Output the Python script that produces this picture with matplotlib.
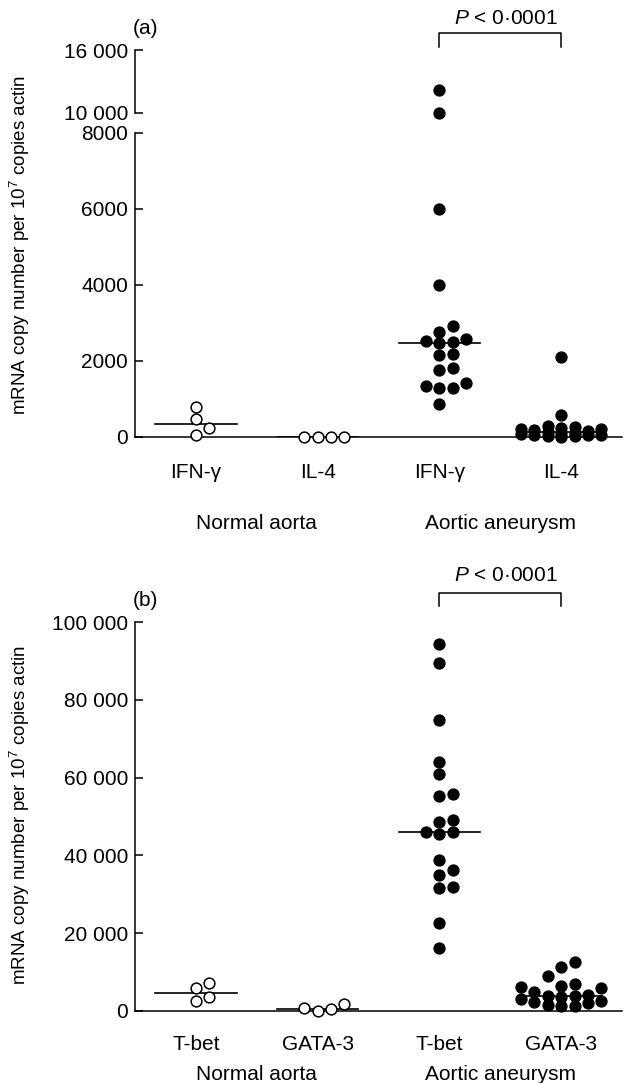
import numpy as np
import matplotlib
matplotlib.use('Agg')
import matplotlib.pyplot as plt
import matplotlib.transforms as mtransforms

plt.rcParams['font.family'] = ['Liberation Sans', 'DejaVu Sans']
plt.rcParams['mathtext.fontset'] = 'custom'
plt.rcParams['mathtext.rm'] = 'Liberation Sans'
plt.rcParams['mathtext.it'] = 'Liberation Sans:italic'

# panel (a): cytokine mRNA
a_labels = ['IFN-γ', 'IL-4', 'IFN-γ', 'IL-4']
a_norm_ifng = [780, 470, 230, 60]
a_norm_il4 = [0, 0, 0, 0]
a_aaa_ifng = [12200, 10000, 6000, 4000, 2920, 2770, 2570, 2530, 2510, 2480,
              2180, 2150, 1810, 1760, 1430, 1350, 1300, 1280, 870]
a_aaa_il4 = [2100, 580, 290, 260, 230, 210, 200, 180, 150, 120,
             100, 80, 70, 60, 50, 40, 30, 20, 10]

# panel (b): transcription factors
b_labels = ['T-bet', 'GATA-3', 'T-bet', 'GATA-3']
b_norm_tbet = [7300, 5900, 3600, 2600]
b_norm_gata3 = [1800, 700, 400, 100]
b_aaa_tbet = [94400, 89500, 74700, 64100, 60900, 55900, 55300, 49200, 48700, 46100,
              46100, 45500, 38800, 36300, 35000, 31900, 31600, 22700, 16100]
b_aaa_gata3 = [12700, 11200, 9100, 6900, 6300, 6200, 5800, 5000, 4100, 3900,
               3900, 3500, 3000, 2600, 2200, 2000, 1600, 1400, 1200]

groups = ['Normal aorta', 'Aortic aneurysm']
ylabel = 'mRNA copy number per 10$^{7}$ copies actin'
ptext = '$\\mathit{P}$ < 0·0001'

W, H = 626, 1083
STEP = 0.11    # column spacing in category units
DIAM = 11      # marker diameter in px
MS = 60
FS = 15        # tick / category text
FS_LAB = 13.5  # y axis title


def swarm(values, to_px):
    # grid swarm like prism: stack in columns, spread sideways on collision
    vals = np.asarray(values, float)
    offs = np.zeros(len(vals))
    placed = []
    for i in np.argsort(vals, kind='stable'):
        y = to_px(vals[i])
        best, bestgap = 0, -1
        for c in [0, 1, -1, 2, -2, 3, -3]:
            gaps = [abs(y - py) for pc, py in placed if pc == c]
            g = min(gaps) if gaps else np.inf
            if g >= DIAM:
                best = c
                break
            if g > bestgap:
                bestgap, best = g, c
        placed.append((best, y))
        offs[i] = best * STEP
    return offs


def pix_a(v):
    return v * 0.038 if v <= 8000 else 324 + (v - 10000) * 0.0105


def pix_b(v):
    return v * 0.00388


def draw(axes_list, x, vals, to_px, filled):
    vals = np.asarray(vals, float)
    offs = swarm(vals, to_px)
    for ax in axes_list:
        lo, hi = ax.get_ylim()
        m = (vals >= lo) & (vals <= hi)
        ax.scatter(x + offs[m], vals[m], s=MS, facecolor='black' if filled else 'white',
                   edgecolor='black', linewidth=1.1, zorder=5, clip_on=False)
    axes_list[-1].plot([x - 0.335, x + 0.335], [np.median(vals)] * 2,
                       color='black', lw=1.2, zorder=4)


def style(ax):
    for s in ['top', 'right']:
        ax.spines[s].set_visible(False)
    ax.spines['left'].set_linewidth(1.1)
    ax.spines['bottom'].set_linewidth(1.1)
    ax.tick_params(axis='y', direction='in', length=6, width=1.1, labelsize=FS, pad=5)
    ax.tick_params(axis='x', length=0, labelsize=FS)
    ax.set_xlim(0.5, 4.5)


def bracket(ax, ylo, yhi, ytxt):
    tr = mtransforms.blended_transform_factory(ax.transData, ax.transAxes)
    ax.plot([3, 3, 4, 4], [ylo, yhi, yhi, ylo], color='black', lw=1.1,
            transform=tr, clip_on=False)
    ax.text(3.55, ytxt, ptext, transform=tr, ha='center', va='center', fontsize=FS)


fig = plt.figure(figsize=(W / 100, H / 100), dpi=100)


def box(l, t, r, b):
    return [l / W, 1 - b / H, (r - l) / W, (b - t) / H]


# panel (a) with broken axis
ax_lo = fig.add_axes(box(135, 133, 622, 437))
ax_hi = fig.add_axes(box(135, 50, 622, 113))
for ax in (ax_lo, ax_hi):
    style(ax)
ax_lo.set_ylim(0, 8000)
ax_lo.set_yticks([0, 2000, 4000, 6000, 8000])
ax_lo.set_yticklabels(['0', '2000', '4000', '6000', '8000'])
ax_hi.set_ylim(10000, 16000)
ax_hi.set_yticks([10000, 16000])
ax_hi.set_yticklabels(['10 000', '16 000'])
ax_hi.spines['bottom'].set_visible(False)
ax_hi.set_xticks([])

draw([ax_lo], 1, a_norm_ifng, pix_a, False)
draw([ax_lo], 2, a_norm_il4, pix_a, False)
draw([ax_hi, ax_lo], 3, a_aaa_ifng, pix_a, True)
draw([ax_lo], 4, a_aaa_il4, pix_a, True)

ax_lo.set_xticks([1, 2, 3, 4])
ax_lo.set_xticklabels(a_labels)
ax_lo.tick_params(axis='x', pad=19)
for i, g in enumerate(groups):
    ax_lo.text(1.5 + 2 * i, -87 / 304, g, transform=mtransforms.blended_transform_factory(
        ax_lo.transData, ax_lo.transAxes), ha='center', va='center', fontsize=FS)
bracket(ax_hi, 1.05, 1.27, 1.5)
fig.text(145 / W, 1 - 28 / H, '(a)', ha='center', va='center', fontsize=FS)
fig.text(20 / W, 1 - 245 / H, ylabel, rotation=90, ha='center', va='center', fontsize=FS_LAB)

# panel (b)
ax_b = fig.add_axes(box(135, 622, 622, 1011))
style(ax_b)
ax_b.set_ylim(0, 100000)
ax_b.set_yticks(np.arange(0, 100001, 20000))
ax_b.set_yticklabels(['0', '20 000', '40 000', '60 000', '80 000', '100 000'])

draw([ax_b], 1, b_norm_tbet, pix_b, False)
draw([ax_b], 2, b_norm_gata3, pix_b, False)
draw([ax_b], 3, b_aaa_tbet, pix_b, True)
draw([ax_b], 4, b_aaa_gata3, pix_b, True)

ax_b.set_xticks([1, 2, 3, 4])
ax_b.set_xticklabels(b_labels)
ax_b.tick_params(axis='x', pad=17)
for i, g in enumerate(groups):
    ax_b.text(1.5 + 2 * i, -64 / 389, g, transform=mtransforms.blended_transform_factory(
        ax_b.transData, ax_b.transAxes), ha='center', va='center', fontsize=FS)
bracket(ax_b, 1.04, 1.075, 1.12)
fig.text(145 / W, 1 - 600 / H, '(b)', ha='center', va='center', fontsize=FS)
fig.text(20 / W, 1 - 815 / H, ylabel, rotation=90, ha='center', va='center', fontsize=FS_LAB)

fig.savefig('out.png', dpi=100)
